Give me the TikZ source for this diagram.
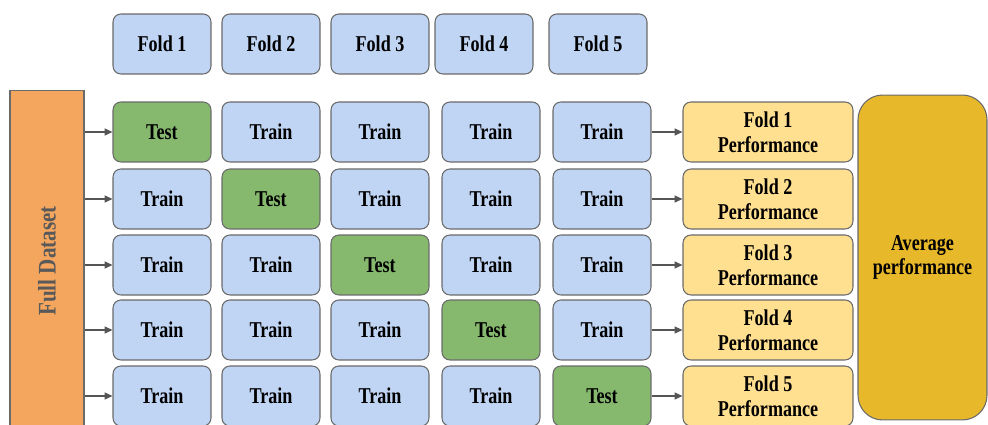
\documentclass[tikz,border=0pt]{standalone}
\usepackage{graphicx}
\usepackage{fontspec}
\setmainfont{Liberation Serif}
\usetikzlibrary{arrows.meta}

\definecolor{trainblue}{HTML}{C0D4F3}
\definecolor{testgreen}{HTML}{86B96E}
\definecolor{perfyellow}{HTML}{FFDF90}
\definecolor{avggold}{HTML}{E8B82B}
\definecolor{dataorange}{HTML}{F4A65F}
\definecolor{edgegray}{HTML}{6A6A6A}
\definecolor{arrowgray}{HTML}{555555}

% taller, narrow-looking labels
\newcommand\tallt[1]{\scalebox{1}[1.25]{#1}}

\begin{document}
\begin{tikzpicture}[
    x=0.02cm, y=-0.02cm,
    box/.style={draw=edgegray, line width=0.6pt, rounded corners=4.5pt, minimum width=1.96cm, minimum height=1.2cm, align=center, inner sep=0pt, font=\fontsize{10.3}{14}\selectfont\bfseries},
    perf/.style={box, fill=perfyellow, minimum width=3.4cm},
    arr/.style={-{Triangle[length=4.5pt,width=4pt]}, draw=arrowgray, line width=0.7pt}
]
\useasboundingbox (0,0) rectangle (988,425);

% fold headers
\node[box, fill=trainblue] (fold1) at (162,44) {\tallt{Fold 1}};
\node[box, fill=trainblue] (fold2) at (271,44) {\tallt{Fold 2}};
\node[box, fill=trainblue] (fold3) at (380,44) {\tallt{Fold 3}};
\node[box, fill=trainblue] (fold4) at (484,44) {\tallt{Fold 4}};
\node[box, fill=trainblue] (fold5) at (598,44) {\tallt{Fold 5}};

% full dataset
\node[draw=edgegray, line width=0.6pt, fill=dataorange, minimum width=1.48cm, minimum height=6.84cm, inner sep=0pt] (full) at (47,261) {};
\node[rotate=90, text=black!65, font=\fontsize{12}{14}\selectfont\bfseries] (fulltext) at (full) {\scalebox{1}[1.2]{Full Dataset}};

% grid, one row per split
\foreach \r/\y in {1/132,2/199,3/265,4/330,5/396} {
  \foreach \c/\x in {1/162,2/271,3/380,4/491,5/602} {
    \ifnum\r=\c \def\cellfill{testgreen}\def\celltext{Test}\else \def\cellfill{trainblue}\def\celltext{Train}\fi
    \node[box, fill=\cellfill] (c\r\c) at (\x,\y) {\tallt{\celltext}};
  }
  \node[perf] (perf\r) at (768,\y) {\tallt{Fold \r}\\\tallt{Performance}};
  \draw[arr] (full.east |- c\r1) -- (c\r1);
  \draw[arr] (c\r5) -- (perf\r);
}

% average
\node[box, fill=avggold, minimum width=2.58cm, minimum height=6.5cm, rounded corners=14pt] (avg) at (922.5,257.5) {\tallt{Average}\\\tallt{performance}};
\end{tikzpicture}
\end{document}
